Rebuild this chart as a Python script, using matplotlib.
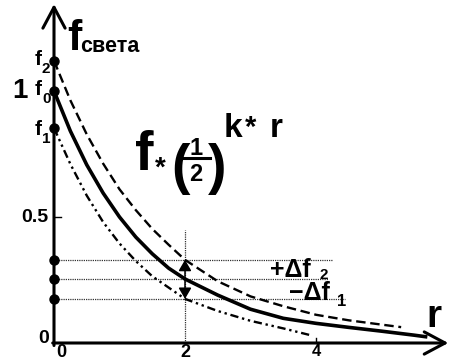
import matplotlib.pyplot as plt
import numpy as np

plt.rcParams['font.family'] = ['Liberation Sans', 'DejaVu Sans']
plt.rcParams['font.weight'] = 'bold'

# кривые, значения
r_f0 = [0, 0.25, 0.5, 0.75, 1, 1.25, 1.5, 1.75, 2, 2.5, 3, 3.5, 4, 4.5, 5, 5.5, 5.7]
f0_vals = [1.0, 0.841, 0.707, 0.595, 0.5, 0.42, 0.354, 0.297, 0.254, 0.19, 0.134, 0.098,
           0.078, 0.062, 0.047, 0.031, 0.024]

r_f2 = [0, 0.25, 0.5, 0.75, 1, 1.25, 1.5, 1.75, 2, 2.5, 3, 3.5, 4, 4.5, 5, 5.3]
f2_vals = [1.12, 0.963, 0.828, 0.712, 0.61, 0.527, 0.453, 0.39, 0.33, 0.245, 0.185, 0.146,
           0.112, 0.09, 0.073, 0.063]

r_f1 = [0, 0.25, 0.5, 0.75, 1, 1.25, 1.5, 1.75, 2, 2.5, 3, 3.5, 3.9]
f1_vals = [0.853, 0.71, 0.585, 0.48, 0.395, 0.325, 0.265, 0.22, 0.175, 0.127, 0.088, 0.058, 0.032]

# уровни в точке r = 2
r_mark = 2
levels = [0.33, 0.254, 0.175]
level_ends = [4.26, 4.18, 4.44]

x_ticks = [0, 2, 4]
W, H = 451, 362

fig = plt.figure(figsize=(W / 100, H / 100), dpi=100)
ax = fig.add_axes([0, 0, 1, 1])
ax.set_xlim(-54 / 65.5, (W - 54) / 65.5)
ax.set_ylim(-(H - 343) / 252, 343 / 252)
ax.axis('off')


def T(px, py, s, **kw):
    # текст в пикселях картинки
    fig.text(px / W, 1 - py / H, s, fontweight='bold', **kw)


# оси со стрелками
ax.annotate('', xy=(6.02, 0), xytext=(-0.02, 0),
            arrowprops=dict(arrowstyle='->,head_length=0.75,head_width=0.4', lw=2.2,
                            color='black', mutation_scale=20, shrinkA=0, shrinkB=0))
ax.annotate('', xy=(0, 1.345), xytext=(0, -0.01),
            arrowprops=dict(arrowstyle='->,head_length=0.75,head_width=0.4', lw=2.2,
                            color='black', mutation_scale=20, shrinkA=0, shrinkB=0))

# пунктирные линии уровней
for lv, e in zip(levels, level_ends):
    ax.plot([0, e], [lv, lv], color='#333333', lw=0.9, ls=(0, (1, 0.8)))
ax.plot([r_mark, r_mark], [0, 0.45], color='#333333', lw=0.9, ls=(0, (1, 0.8)))

# кривые
ax.plot(r_f2, f2_vals, color='black', lw=1.7, dashes=[4, 2])
ax.plot(r_f0, f0_vals, color='black', lw=2.6, solid_capstyle='butt')
ax.plot(r_f1, f1_vals, color='black', lw=1.7, dashes=[3.5, 1.6, 1, 1.6, 1, 1.6])

# точки на оси
ax.plot([0] * 3, [f2_vals[0], f0_vals[0], f1_vals[0]], 'o', color='black', ms=6.5)
ax.plot([0] * 3, levels, 'o', color='black', ms=6.5)

# стрелки +df2 / -df1
for tip in (levels[0], levels[2]):
    ax.annotate('', xy=(r_mark, tip), xytext=(r_mark, levels[1]),
                arrowprops=dict(arrowstyle='-|>,head_length=0.6,head_width=0.35', lw=1.1,
                                color='black', mutation_scale=11, shrinkA=0, shrinkB=0))

# засечки
ax.plot([0, 0.1], [0.5, 0.5], color='black', lw=1)
ax.plot([4, 4], [0, 0.02], color='black', lw=1)

# подписи осей
T(67, 50, 'f', fontsize=31, va='baseline')
T(80, 52, 'света', fontsize=15.5, va='baseline')
T(426, 327, 'r', fontsize=28, va='baseline')

T(12, 98, '1', fontsize=20, va='baseline')
for py, sub in [(65, '2'), (95, '0'), (135, '1')]:
    T(35, py, 'f', fontsize=15, va='baseline')
    T(42, py + 8, sub, fontsize=11, va='baseline')

T(48, 222, '0.5', fontsize=14, va='baseline', ha='right')
T(49, 343, '0', fontsize=14, va='baseline', ha='right')
for xv, py, fs in zip(x_ticks, [357, 357, 356], [13, 13, 12]):
    T(54 + 65.5 * xv + (7 if xv == 0 else 0), py, str(xv), fontsize=fs, va='baseline', ha='center')

T(270, 277, '+Δf', fontsize=18, va='baseline')
T(319, 279, '2', fontsize=11, va='baseline')
T(289, 300, '−Δf', fontsize=18, va='baseline')
T(337, 306, '1', fontsize=12, va='baseline')

# формула f*(1/2)^(k*r)
T(135, 170, 'f', fontsize=40, va='baseline')
T(155, 176, '*', fontsize=20, va='baseline')
T(171, 183, '(', fontsize=40, va='baseline')
T(196, 155, '1', fontsize=17, va='baseline', ha='center')
fig.add_artist(plt.Line2D([184 / W, 210 / W], [1 - 158 / H, 1 - 158 / H], color='black', lw=2.2))
T(196, 181, '2', fontsize=17, va='baseline', ha='center')
T(208, 183, ')', fontsize=40, va='baseline')
T(224, 137, 'k', fontsize=24, va='baseline')
T(245, 136, '*', fontsize=21, va='baseline')
T(270, 137, 'r', fontsize=24, va='baseline')

fig.savefig('out.png', dpi=100)
